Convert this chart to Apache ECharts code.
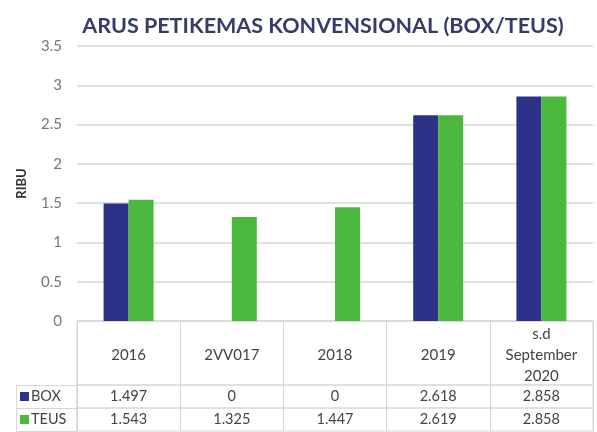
<!DOCTYPE html>
<html>
<head>
<meta charset="utf-8">
<script src="https://cdn.jsdelivr.net/npm/echarts@6/dist/echarts.min.js"></script>
<style>
html, body { margin: 0; padding: 0; background: #fff; }
#chart { width: 597px; height: 432px; }
</style>
</head>
<body>
<div id="chart"></div>
<script>
// data
var years = ['2016', '2VV017', '2018', '2019', 's.d\nSeptember\n2020'];
var box = [1.497, 0, 0, 2.618, 2.858];
var teus = [1.543, 1.325, 1.447, 2.619, 2.858];
var yTicks = [0, 3.5, 0.5]; // min, max, step

var boxColor = '#2e3188';
var teusColor = '#4cb83d';
var lineColor = '#d6d6d6';
var font = 'Lato';

var chart = echarts.init(document.getElementById('chart'));

// one grid for the bars, three for the table rows under them
function rowGrid(top, h) {
  return { left: 77, right: 4, top: top, height: h, show: true, borderColor: lineColor, borderWidth: 1, backgroundColor: 'transparent' };
}
function rowX(gi, fmt, margin, size) {
  return {
    type: 'category', gridIndex: gi, data: years,
    axisLine: { show: false }, axisTick: { show: false },
    splitLine: { show: true, interval: 0, lineStyle: { color: lineColor } },
    axisLabel: {
      inside: true, margin: margin, interval: 0, verticalAlign: 'middle',
      color: '#444', fontFamily: font, fontSize: size, lineHeight: 21,
      formatter: fmt
    }
  };
}
function rowY(gi, name, color) {
  return {
    type: 'category', gridIndex: gi, data: [name],
    axisLine: { show: false }, axisTick: { show: false }, splitLine: { show: false },
    axisLabel: {
      show: name !== '', align: 'left', margin: 57,
      formatter: function (v) { return '{sq|}{t|' + v + '}'; },
      rich: {
        sq: { width: 9, height: 9, backgroundColor: color },
        t: { color: '#444', fontFamily: font, fontSize: 14.5, padding: [0, 0, 0, 2] }
      }
    }
  };
}

var option = {
  animation: false,
  title: {
    text: 'ARUS PETIKEMAS KONVENSIONAL (BOX/TEUS)',
    left: 318, top: 10, textAlign: 'center',
    textStyle: { color: '#343c68', fontFamily: font, fontSize: 21.5, fontWeight: 'bold' }
  },
  grid: [
    { left: 77, right: 4, top: 46, height: 275 },
    rowGrid(321, 64),
    rowGrid(385, 23),
    rowGrid(408, 23)
  ],
  xAxis: [
    {
      type: 'category', gridIndex: 0, data: years,
      axisLine: { show: false }, axisTick: { show: false }, axisLabel: { show: false }
    },
    rowX(1, function (v) { return v; }, 30, 15),
    rowX(2, function (v, i) { return String(box[i]); }, 11.5, 14.5),
    rowX(3, function (v, i) { return String(teus[i]); }, 11.5, 14.5)
  ],
  yAxis: [
    {
      type: 'value', gridIndex: 0,
      min: yTicks[0], max: yTicks[1], interval: yTicks[2],
      name: 'RIBU', nameLocation: 'middle', nameGap: 49, nameRotate: 90,
      nameTextStyle: { color: '#333', fontFamily: font, fontSize: 13, fontWeight: 'bold' },
      axisLine: { show: false }, axisTick: { show: false },
      axisLabel: { color: '#777', fontFamily: font, fontSize: 15, margin: 15 },
      splitLine: { lineStyle: { color: lineColor, width: 1.5 } }
    },
    rowY(1, '', '#fff'),
    rowY(2, 'BOX', boxColor),
    rowY(3, 'TEUS', teusColor)
  ],
  graphic: [
    { type: 'rect', shape: { x: 16.5, y: 385.5, width: 60.5, height: 23 }, style: { fill: 'none', stroke: lineColor } },
    { type: 'rect', shape: { x: 16.5, y: 408.5, width: 60.5, height: 23 }, style: { fill: 'none', stroke: lineColor } }
  ],
  series: [
    { name: 'BOX', type: 'bar', xAxisIndex: 0, yAxisIndex: 0, data: box, barWidth: 25, barGap: '0%', itemStyle: { color: boxColor } },
    { name: 'TEUS', type: 'bar', xAxisIndex: 0, yAxisIndex: 0, data: teus, barWidth: 25, barGap: '0%', itemStyle: { color: teusColor } }
  ]
};
chart.setOption(option);
</script>
</body>
</html>
